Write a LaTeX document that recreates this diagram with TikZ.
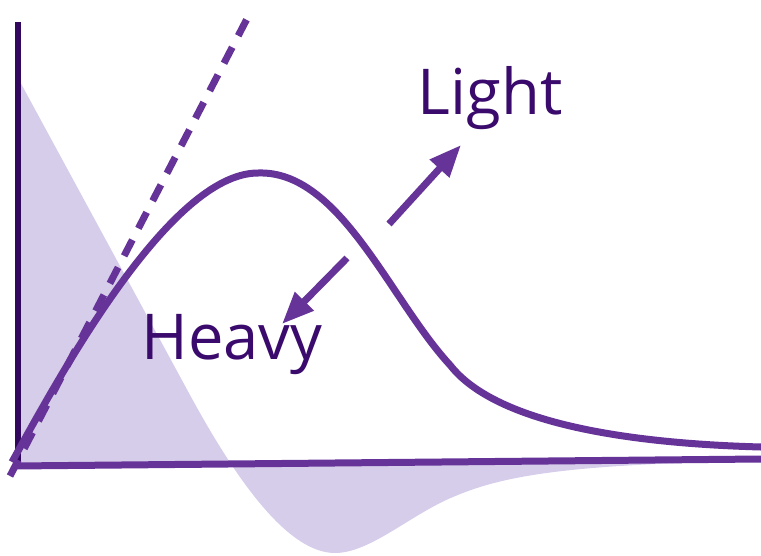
\documentclass[tikz,border=0pt]{standalone}
\usepackage{fontspec}
\setmainfont{Open Sans}
\usetikzlibrary{arrows.meta}

\definecolor{axisdark}{HTML}{32085E}
\definecolor{curvepurple}{HTML}{663399}
\definecolor{fillpurple}{HTML}{D6CDEA}
\definecolor{labeldark}{HTML}{3A0A6C}

\begin{document}
\begin{tikzpicture}[
    x=0.02cm, y=-0.02cm,
    thickline/.style={line width=0.14cm, curvepurple},
    dashline/.style={line width=0.14cm, curvepurple, dash pattern=on 0.36cm off 0.26cm},
    arr/.style={line width=0.14cm, curvepurple, -{Triangle[length=0.64cm, width=0.5cm]}},
    lbl/.style={labeldark, font=\fontsize{36}{40}\selectfont}
]
    \useasboundingbox (0,0) rectangle (761,555);

    % --- Shaded distribution ---
    \fill[fillpurple] (18,78) -- (190,395)
        .. controls (240,487) and (290,553) .. (335,553)
        .. controls (370,553) and (410,515) .. (453,497)
        .. controls (500,477) and (560,464) .. (761,461)
        -- (761,462) -- (18,466) -- cycle;

    % --- Axes ---
    \draw[line width=0.14cm, axisdark] (18,467) -- (18,22);
    \draw[thickline] (14,466) -- (761,459);

    % --- Tangent line ---
    \draw[dashline] (10,476) -- (250,13);

    % --- Main curve ---
    \draw[thickline] (12,462)
        .. controls (60,375) and (170,173) .. (258,173)
        .. controls (340,170) and (390,300) .. (450,365)
        .. controls (485,410) and (580,442) .. (761,447);

    % --- Shift arrows ---
    \coordinate (lightstart) at (389,224);
    \coordinate (lightend) at (461,145);
    \coordinate (heavystart) at (347,258);
    \coordinate (heavyend) at (282,324);
    \draw[arr] (lightstart) -- (lightend);
    \draw[arr] (heavystart) -- (heavyend);

    % --- Labels ---
    \node[lbl] (light) at (490,98) {Light};
    \node[lbl] (heavy) at (232,345) {Heavy};
\end{tikzpicture}
\end{document}
